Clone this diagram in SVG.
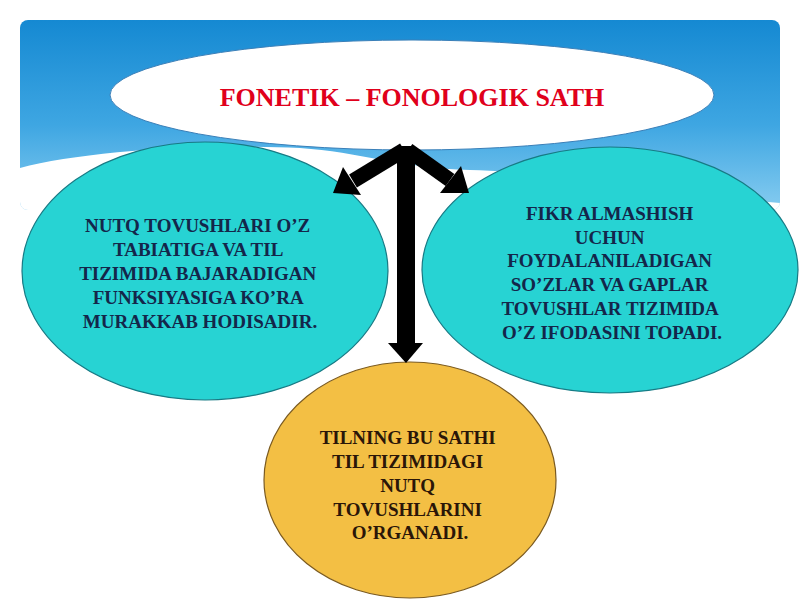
<svg xmlns="http://www.w3.org/2000/svg" width="800" height="600" viewBox="0 0 800 600">
<defs>
<linearGradient id="sky" x1="0" y1="0" x2="0" y2="1">
<stop offset="0" stop-color="#1589d2"/>
<stop offset="0.55" stop-color="#3ea6e2"/>
<stop offset="1" stop-color="#86ccf0"/>
</linearGradient>
<clipPath id="skyclip"><rect x="20" y="20" width="760" height="190" rx="8"/></clipPath>
<style>
.t{font-weight:bold;text-anchor:middle}
.b{font-size:19px}
.teal{fill:#27d3d3;stroke:#177a84;stroke-width:1.2}
.gold{fill:#f3bf44;stroke:#7a5a20;stroke-width:1.2}
.arr{fill:#000}
</style>
</defs>
<rect width="800" height="600" fill="#ffffff"/>
<g id="sky-bg" clip-path="url(#skyclip)">
<rect x="20" y="20" width="760" height="190" fill="url(#sky)"/>
<path d="M20,215 L20,168 C80,152 200,143 300,148 C360,152 400,168 470,170 C560,172 680,196 780,203 L780,215 Z" fill="#ffffff"/>
</g>
<g id="title">
<ellipse cx="412" cy="95" rx="302" ry="55" fill="#ffffff" stroke="#3a7fb8" stroke-width="1"/>
<text class="t" font-family="Liberation Serif, serif" x="412" y="106" font-size="26" fill="#e0001b">FONETIK – FONOLOGIK SATH</text>
</g>
<g id="left-node">
<ellipse class="teal" cx="205" cy="271" rx="183" ry="129"/>
<text class="t b" font-family="Liberation Serif, serif" fill="#14264a">
<tspan x="200" y="232">NUTQ TOVUSHLARI O’Z</tspan>
<tspan x="200" y="256">TABIATIGA VA TIL</tspan>
<tspan x="200" y="280">TIZIMIDA BAJARADIGAN</tspan>
<tspan x="200" y="304">FUNKSIYASIGA KO’RA</tspan>
<tspan x="200" y="328">MURAKKAB HODISADIR.</tspan>
</text>
</g>
<g id="right-node">
<ellipse class="teal" cx="610" cy="270" rx="188" ry="123"/>
<text class="t b" font-family="Liberation Serif, serif" fill="#14264a">
<tspan x="612" y="220">FIKR ALMASHISH</tspan>
<tspan x="612" y="244">UCHUN</tspan>
<tspan x="612" y="267">FOYDALANILADIGAN</tspan>
<tspan x="612" y="291">SO’ZLAR VA GAPLAR</tspan>
<tspan x="612" y="315">TOVUSHLAR TIZIMIDA</tspan>
<tspan x="612" y="339">O’Z IFODASINI TOPADI.</tspan>
</text>
</g>
<g id="bottom-node">
<ellipse class="gold" cx="410" cy="480" rx="146" ry="118"/>
<text class="t b" font-family="Liberation Serif, serif" fill="#2a1608">
<tspan x="410" y="444">TILNING BU SATHI</tspan>
<tspan x="410" y="468">TIL TIZIMIDAGI</tspan>
<tspan x="410" y="492">NUTQ</tspan>
<tspan x="410" y="516">TOVUSHLARINI</tspan>
<tspan x="410" y="539">O’RGANADI.</tspan>
</text>
</g>
<g id="connectors">
<line x1="404" y1="150" x2="353" y2="181" stroke="#000" stroke-width="15"/>
<polygon class="arr" points="333,193 343,167 361,195"/>
<line x1="408" y1="150" x2="450" y2="180" stroke="#000" stroke-width="15"/>
<polygon class="arr" points="469,193 461,166 440,193"/>
<rect x="397" y="146" width="18" height="200" fill="#000"/>
<polygon class="arr" points="388,343 423,343 406,363"/>
</g>
</svg>
